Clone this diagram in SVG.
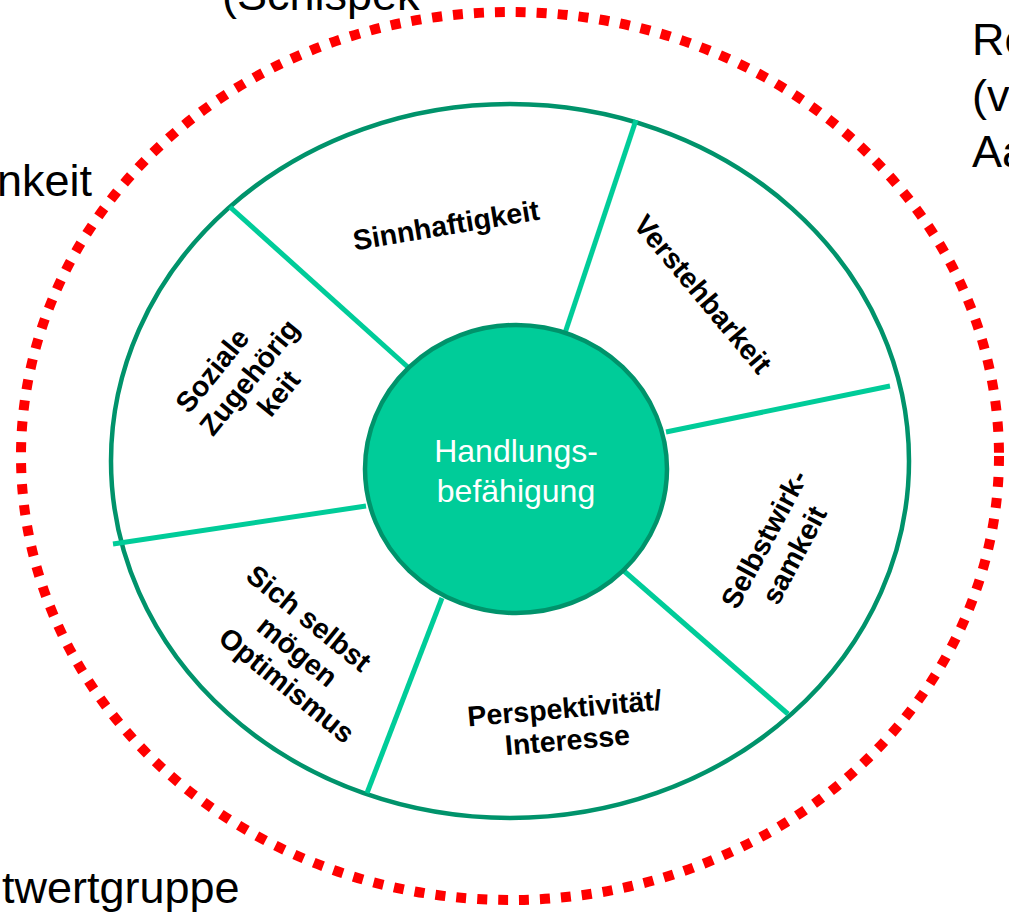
<svg xmlns="http://www.w3.org/2000/svg" width="1009" height="915" viewBox="0 0 1009 915">
<style>
.outer{font-family:"Liberation Sans",Arial,sans-serif;font-size:45px;fill:#000}
.lbl{font-family:"Liberation Sans",Arial,sans-serif;font-size:28.5px;font-weight:bold;fill:#000;text-anchor:middle}
.div{stroke:#00CC99;stroke-width:5;fill:none}
</style>
<rect width="1009" height="915" fill="#fff"/>
<g id="context-texts">
<text class="outer" x="222" y="10" font-size="47">(Schlspek</text>
<text class="outer" x="972" y="55">Re</text>
<text class="outer" x="972" y="111">(v</text>
<text class="outer" x="972" y="167">Aa</text>
<text class="outer" x="-3" y="196">nkeit</text>
<text class="outer" x="2" y="903" font-size="47">twertgruppe</text>
</g>
<g id="red-boundary">
<ellipse cx="510" cy="456" rx="489" ry="444" fill="none" stroke="#FF0000" stroke-width="10" stroke-dasharray="10 11"/>
</g>
<g id="outer-ring">
<ellipse cx="510" cy="461" rx="399" ry="357" fill="#fff" stroke="#00936B" stroke-width="4.5"/>
</g>
<g id="connectors">
<line class="div" x1="230" y1="207" x2="410" y2="369"/>
<line class="div" x1="636" y1="120" x2="565" y2="333"/>
<line class="div" x1="890" y1="386" x2="666" y2="432"/>
<line class="div" x1="788" y1="714" x2="624" y2="571"/>
<line class="div" x1="442" y1="598" x2="367" y2="793"/>
<line class="div" x1="113" y1="544" x2="366" y2="506"/>
</g>
<g id="center">
<ellipse cx="516" cy="469" rx="151" ry="144" fill="#00CC99" stroke="#00936B" stroke-width="4.5"/>
<text x="516" y="462" font-family="Liberation Sans,Arial,sans-serif" font-size="32" fill="#fff" text-anchor="middle">Handlungs-</text>
<text x="516" y="502" font-family="Liberation Sans,Arial,sans-serif" font-size="32" fill="#fff" text-anchor="middle">befähigung</text>
</g>
<g id="sinnhaftigkeit">
<text class="lbl" transform="translate(446,225) rotate(-9.5)" y="10">Sinnhaftigkeit</text>
</g>
<g id="verstehbarkeit">
<text class="lbl" transform="translate(703,294) rotate(50)" y="10">Verstehbarkeit</text>
</g>
<g id="selbstwirksamkeit">
<text class="lbl" transform="translate(779,547) rotate(-62)"><tspan x="0" y="-7">Selbstwirk-</tspan><tspan x="0" y="27">samkeit</tspan></text>
</g>
<g id="perspektivitaet">
<text class="lbl" transform="translate(566,725) rotate(-5)"><tspan x="0" y="-7">Perspektivität/</tspan><tspan x="0" y="25">Interesse</tspan></text>
</g>
<g id="sich-selbst">
<text class="lbl" transform="translate(297,652) rotate(39)" font-size="29.5"><tspan x="-12" y="-24">Sich selbst</tspan><tspan x="0" y="9">mögen</tspan><tspan x="13" y="42">Optimismus</tspan></text>
</g>
<g id="soziale">
<text class="lbl" transform="translate(248,380) rotate(-51)"><tspan x="-15" y="-24">Soziale</tspan><tspan x="3" y="9">Zugehörig</tspan><tspan x="9" y="42">keit</tspan></text>
</g>
</svg>
